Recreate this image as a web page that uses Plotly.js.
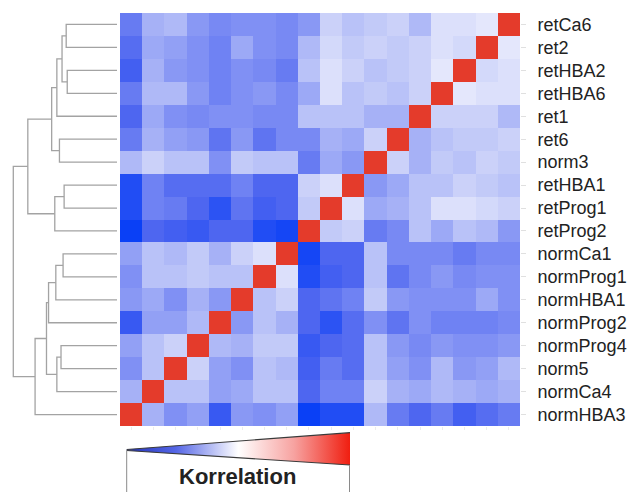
<!DOCTYPE html>
<html>
<head>
<meta charset="utf-8">
<script src="https://cdn.plot.ly/plotly-3.0.1.min.js"></script>
<style>
  html, body { margin: 0; padding: 0; background: #fff; }
  #chart { width: 630px; height: 492px; }
</style>
</head>
<body>
<div id="chart"></div>
<script>
// Sample names in clustered order (top to bottom)
const samples = ['retCa6', 'ret2', 'retHBA2', 'retHBA6', 'ret1', 'ret6', 'norm3',
  'retHBA1', 'retProg1', 'retProg2', 'normCa1', 'normProg1', 'normHBA1',
  'normProg2', 'normProg4', 'norm5', 'normCa4', 'normHBA3'];

// Pairwise correlations; rows and columns follow the sample order above
const corr = [
  [1.00, .73, .72, .72, .67, .70, .69, .68, .70, .63, .61, .62, .62, .61, .63, .67, .66, .59],
  [.73, 1.00, .71, .72, .70, .69, .70, .69, .71, .67, .61, .62, .65, .60, .62, .64, .65, .57],
  [.72, .71, 1.00, .73, .70, .69, .68, .70, .72, .68, .59, .61, .62, .60, .62, .63, .66, .55],
  [.72, .72, .73, 1.00, .70, .68, .69, .68, .72, .65, .61, .63, .62, .60, .63, .67, .67, .59],
  [.67, .70, .70, .70, 1.00, .66, .66, .68, .68, .68, .61, .61, .62, .62, .61, .62, .65, .56],
  [.70, .69, .69, .68, .66, 1.00, .70, .65, .66, .61, .61, .58, .63, .58, .63, .64, .66, .59],
  [.69, .70, .68, .69, .66, .70, 1.00, .63, .65, .59, .68, .68, .69, .62, .68, .68, .70, .67],
  [.68, .69, .70, .68, .68, .65, .63, 1.00, .72, .70, .56, .56, .60, .57, .57, .57, .60, .52],
  [.70, .71, .72, .72, .68, .66, .65, .72, 1.00, .69, .56, .55, .58, .53, .56, .59, .60, .52],
  [.63, .67, .68, .65, .68, .61, .59, .70, .69, 1.00, .51, .52, .56, .56, .54, .55, .56, .50],
  [.61, .61, .59, .61, .61, .61, .68, .56, .56, .51, 1.00, .72, .70, .66, .69, .67, .68, .64],
  [.62, .62, .61, .63, .61, .58, .68, .56, .55, .52, .72, 1.00, .68, .68, .69, .68, .68, .62],
  [.62, .65, .62, .62, .62, .63, .69, .60, .58, .56, .70, .68, 1.00, .63, .66, .62, .65, .63],
  [.61, .60, .60, .60, .62, .58, .62, .57, .53, .56, .66, .68, .63, 1.00, .67, .64, .64, .54],
  [.63, .62, .62, .63, .61, .63, .68, .57, .56, .54, .69, .69, .66, .67, 1.00, .70, .68, .64],
  [.67, .64, .63, .67, .62, .64, .68, .57, .59, .55, .67, .68, .62, .64, .70, 1.00, .68, .62],
  [.66, .65, .66, .67, .65, .66, .70, .60, .60, .56, .68, .68, .65, .64, .68, .68, 1.00, .66],
  [.59, .57, .55, .59, .56, .59, .67, .52, .52, .50, .64, .62, .63, .54, .64, .62, .66, 1.00]
];

// Hierarchical clustering: [child A, child B, merge height].
// Ids 0-17 are samples; id 18 + k is the cluster formed by merge k.
const merges = [
  [0, 1, 0.49],
  [2, 3, 0.48],
  [18, 19, 0.53],
  [20, 4, 0.58],
  [5, 6, 0.555],
  [21, 22, 0.63],
  [7, 8, 0.51],
  [24, 9, 0.60],
  [23, 25, 0.86],
  [10, 11, 0.52],
  [27, 12, 0.59],
  [28, 13, 0.66],
  [14, 15, 0.54],
  [30, 16, 0.58],
  [29, 31, 0.68],
  [32, 17, 0.79],
  [26, 33, 1.00]
];

// Colour scales: heat map cells and the wedge-shaped key
const corrScale = [
  [0.000, '#0a40f6'],
  [0.115, '#4c64f0'],
  [0.250, '#8494f4'],
  [0.375, '#c0c8f8'],
  [0.500, '#f5f6fe'],
  [1.000, '#e43b2b']
];
const keyScale = [
  [0.00, '#2233bb'],
  [0.22, '#5566e6'],
  [0.50, '#ffffff'],
  [0.75, '#f7a2a0'],
  [1.00, '#f01e10']
];
const keyTitle = 'Korrelation';

// Dendrogram segments: one U-shaped link per merge
const nodeY = samples.map((_, i) => i);
const nodeH = samples.map(() => 0);
const dendX = [], dendY = [];
merges.forEach(([a, b, h]) => {
  dendX.push(nodeH[a], h, h, nodeH[b], null);
  dendY.push(nodeY[a], nodeY[a], nodeY[b], nodeY[b], null);
  nodeY.push((nodeY[a] + nodeY[b]) / 2);
  nodeH.push(h);
});

const W = 630, H = 492;
const labelFont = { family: 'Liberation Sans, Arial, sans-serif', size: 18, color: '#222' };
const gridY = [1 - 426 / H, 1 - 13 / H];

const traces = [
  {
    type: 'heatmap',
    z: corr,
    x: samples,
    y: samples,
    colorscale: corrScale,
    zmin: 0.5,
    zmax: 1.0,
    showscale: false,
    hoverinfo: 'skip',
    xaxis: 'x',
    yaxis: 'y'
  },
  {
    type: 'scatter',
    mode: 'lines',
    x: dendX,
    y: dendY,
    line: { color: '#a3a3a3', width: 1.3 },
    hoverinfo: 'skip',
    xaxis: 'x3',
    yaxis: 'y3'
  },
  {
    // colour key wedge, drawn in page-pixel units of axis pair 2
    type: 'scatter',
    mode: 'lines',
    x: [126.7, 350, 350, 126.7, 126.7],
    y: [449.5, 432.7, 465, 450.5, 449.5],
    fill: 'toself',
    fillgradient: { type: 'horizontal', colorscale: keyScale },
    line: { width: 0 },
    hoverinfo: 'skip',
    xaxis: 'x2',
    yaxis: 'y2'
  }
];

const layout = {
  width: W,
  height: H,
  margin: { l: 0, r: 0, t: 0, b: 0 },
  paper_bgcolor: '#fff',
  plot_bgcolor: '#fff',
  showlegend: false,
  xaxis: {
    domain: [120 / W, 520 / W],
    type: 'category',
    range: [17.5, -0.5],
    showticklabels: false,
    ticks: 'outside', ticklen: 3, tickcolor: '#ececec',
    showgrid: false, zeroline: false, showline: false,
    anchor: 'y', fixedrange: true
  },
  yaxis: {
    domain: gridY,
    type: 'category',
    range: [17.5, -0.5],
    side: 'right',
    ticks: 'outside', ticklen: 5, tickcolor: '#e0e0e0',
    ticklabelstandoff: 8,
    tickfont: labelFont,
    showgrid: false, zeroline: false, showline: false,
    anchor: 'x', automargin: false, fixedrange: true
  },
  xaxis3: {
    domain: [0, 120 / W],
    range: [1.1283, -0.0289],
    visible: false, anchor: 'y3', fixedrange: true
  },
  yaxis3: {
    domain: gridY,
    range: [17.5, -0.5],
    visible: false, anchor: 'x3', fixedrange: true
  },
  xaxis2: {
    domain: [0, 1], range: [0, W],
    visible: false, anchor: 'y2', fixedrange: true
  },
  yaxis2: {
    domain: [0, 60 / H], range: [H, H - 60],
    visible: false, anchor: 'x2', fixedrange: true
  },
  shapes: [
    { type: 'line', xref: 'x2', yref: 'y2', x0: 126.7, y0: 449.5, x1: 350, y1: 432.7,
      line: { color: '#3a3a3a', width: 1.2 } },
    { type: 'line', xref: 'x2', yref: 'y2', x0: 126.7, y0: 450.5, x1: 350, y1: 465,
      line: { color: '#3a3a3a', width: 1.2 } },
    { type: 'line', xref: 'x2', yref: 'y2', x0: 126.7, y0: 450.5, x1: 126.7, y1: 495,
      line: { color: '#8a8a8a', width: 1 } },
    { type: 'line', xref: 'x2', yref: 'y2', x0: 349.5, y0: 465, x1: 349.5, y1: 495,
      line: { color: '#8a8a8a', width: 1 } }
  ],
  annotations: [
    {
      xref: 'x2', yref: 'y2', x: 237, y: 476,
      text: keyTitle, showarrow: false,
      xanchor: 'center', yanchor: 'middle',
      font: { family: 'Liberation Sans, Arial, sans-serif', size: 22, color: '#222', weight: 700 }
    }
  ]
};

Plotly.newPlot('chart', traces, layout, { displayModeBar: false, staticPlot: true });
</script>
</body>
</html>
